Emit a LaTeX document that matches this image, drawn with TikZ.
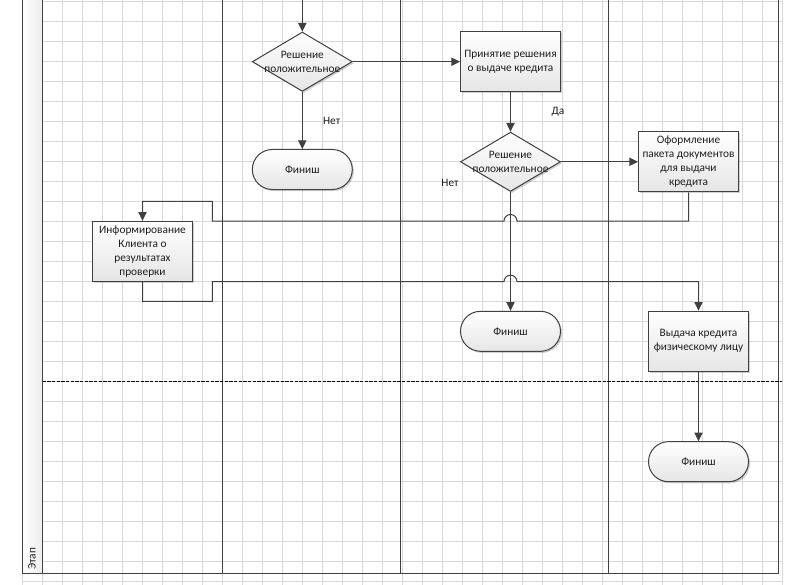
\documentclass[tikz,border=0pt]{standalone}
\usepackage{fontspec}
\setmainfont{Carlito}
\usetikzlibrary{shapes.geometric,arrows.meta,shadows}
\definecolor{ln}{HTML}{404040}
\definecolor{gridc}{HTML}{D9D9D9}
\definecolor{txtc}{HTML}{1E1E1E}
\newcommand{\lblfont}{\fontsize{8.5pt}{10.5pt}\selectfont}
\tikzset{
  shp/.style={draw=ln, line width=0.75pt, top color=white, bottom color=gray!20,
    inner sep=0pt, align=center, font=\lblfont, text=txtc,
    drop shadow={shadow xshift=1.2pt, shadow yshift=-1.2pt, opacity=0.18, fill=black}},
  proc/.style={shp, rectangle, minimum width=75pt, minimum height=45pt},
  term/.style={shp, rectangle, rounded corners=15pt, minimum width=75pt, minimum height=30pt},
  dec/.style={shp, diamond, minimum width=75pt, minimum height=44.5pt},
  txt/.style={font=\lblfont, text=txtc, align=center, inner sep=0pt},
  conn/.style={draw=ln, line width=0.75pt},
  arr/.style={conn, -{Triangle[length=6.5pt,width=6.2pt]}},
  lane/.style={draw=ln, line width=0.9pt},
}
\begin{document}
\begin{tikzpicture}[x=0.75pt,y=-0.75pt]
\useasboundingbox (0,0) rectangle (811,585);
% grid
\foreach \k in {0,...,38} \draw[gridc, line width=0.6pt] (22.3+20*\k,0) -- (22.3+20*\k,585);
\foreach \k in {0,...,29} \draw[gridc, line width=0.6pt] (22.3,1.3+20*\k) -- (782.3,1.3+20*\k);
% header strip
\shade[left color=white, right color=gray!14] (22.3,0) rectangle (42.7,573.3);
% frame and lanes
\draw[lane] (22.3,0) -- (22.3,573.3) -- (778.7,573.3) -- (778.7,0);
\draw[lane] (42.7,0) -- (42.7,573.3);
\draw[lane] (222.3,0) -- (222.3,573.3);
\draw[lane] (400.7,0) -- (400.7,573.3);
\draw[lane] (608.3,0) -- (608.3,573.3);
\draw[black, line width=0.75pt, dash pattern=on 2.4pt off 1.1pt] (42.7,381.3) -- (781.7,381.3);
\node[txt, rotate=90] (etap) at (32,559) {Этап};

% shapes
\node[dec] (d1) at (302.3,61.7) {};
\node[txt] (d1t) at (d1.center) {Решение\\положительное};
\node[term] (f1) at (302.3,169.5) {Финиш};
\node[proc] (b1) at (510.5,61.7) {Принятие решения\\о выдаче кредита};
\node[dec] (d2) at (510.5,161.8) {};
\node[txt] (d2t) at (d2.center) {Решение\\положительное};
\node[proc] (b2) at (688.5,161.8) {Оформление\\пакета документов\\для выдачи\\кредита};
\node[proc] (b3) at (142.5,251.3) {Информирование\\Клиента о\\результатах\\проверки};
\node[term] (f2) at (510.5,331.3) {Финиш};
\node[proc] (b4) at (698.5,341.2) {Выдача кредита\\физическому лицу};
\node[term] (f3) at (698.5,461.7) {Финиш};

% labels
\node[txt] (no1) at (331.7,121) {Нет};
\node[txt] (yes2) at (558,111.3) {Да};
\node[txt] (no2) at (450,182.7) {Нет};

% coordinates
\coordinate (top1) at (302.3,0);
\coordinate (h1r) at (517,221);
\coordinate (h1t) at (510.5,214.5);
\coordinate (h1l) at (504,221);
\coordinate (c1) at (212.3,221);
\coordinate (c2) at (212.3,201.3);
\coordinate (c3) at (212.3,301.3);
\coordinate (c4) at (212.3,281.7);
\coordinate (h2l) at (504,281.7);
\coordinate (h2t) at (510.5,275.2);
\coordinate (h2r) at (517,281.7);

% connectors
\draw[arr] (top1) -- (d1.north);
\draw[arr] (d1.east) -- (b1.west);
\draw[arr] (d1.south) -- (f1.north);
\draw[arr] (b1.south) -- (d2.north);
\draw[arr] (d2.east) -- (b2.west);
\draw[arr] (d2.south) -- (f2.north);
\draw[arr] (b2.south) |- (h1r) .. controls +(0,-3.6) and +(3.6,0) .. (h1t)
  .. controls +(-3.6,0) and +(0,-3.6) .. (h1l) -- (c1) -- (c2) -| (b3.north);
\draw[arr] (b3.south) |- (c3) -- (c4) -- (h2l) .. controls +(0,-3.6) and +(-3.6,0) .. (h2t)
  .. controls +(3.6,0) and +(0,-3.6) .. (h2r) -| (b4.north);
\draw[arr] (b4.south) -- (f3.north);
\end{tikzpicture}
\end{document}
